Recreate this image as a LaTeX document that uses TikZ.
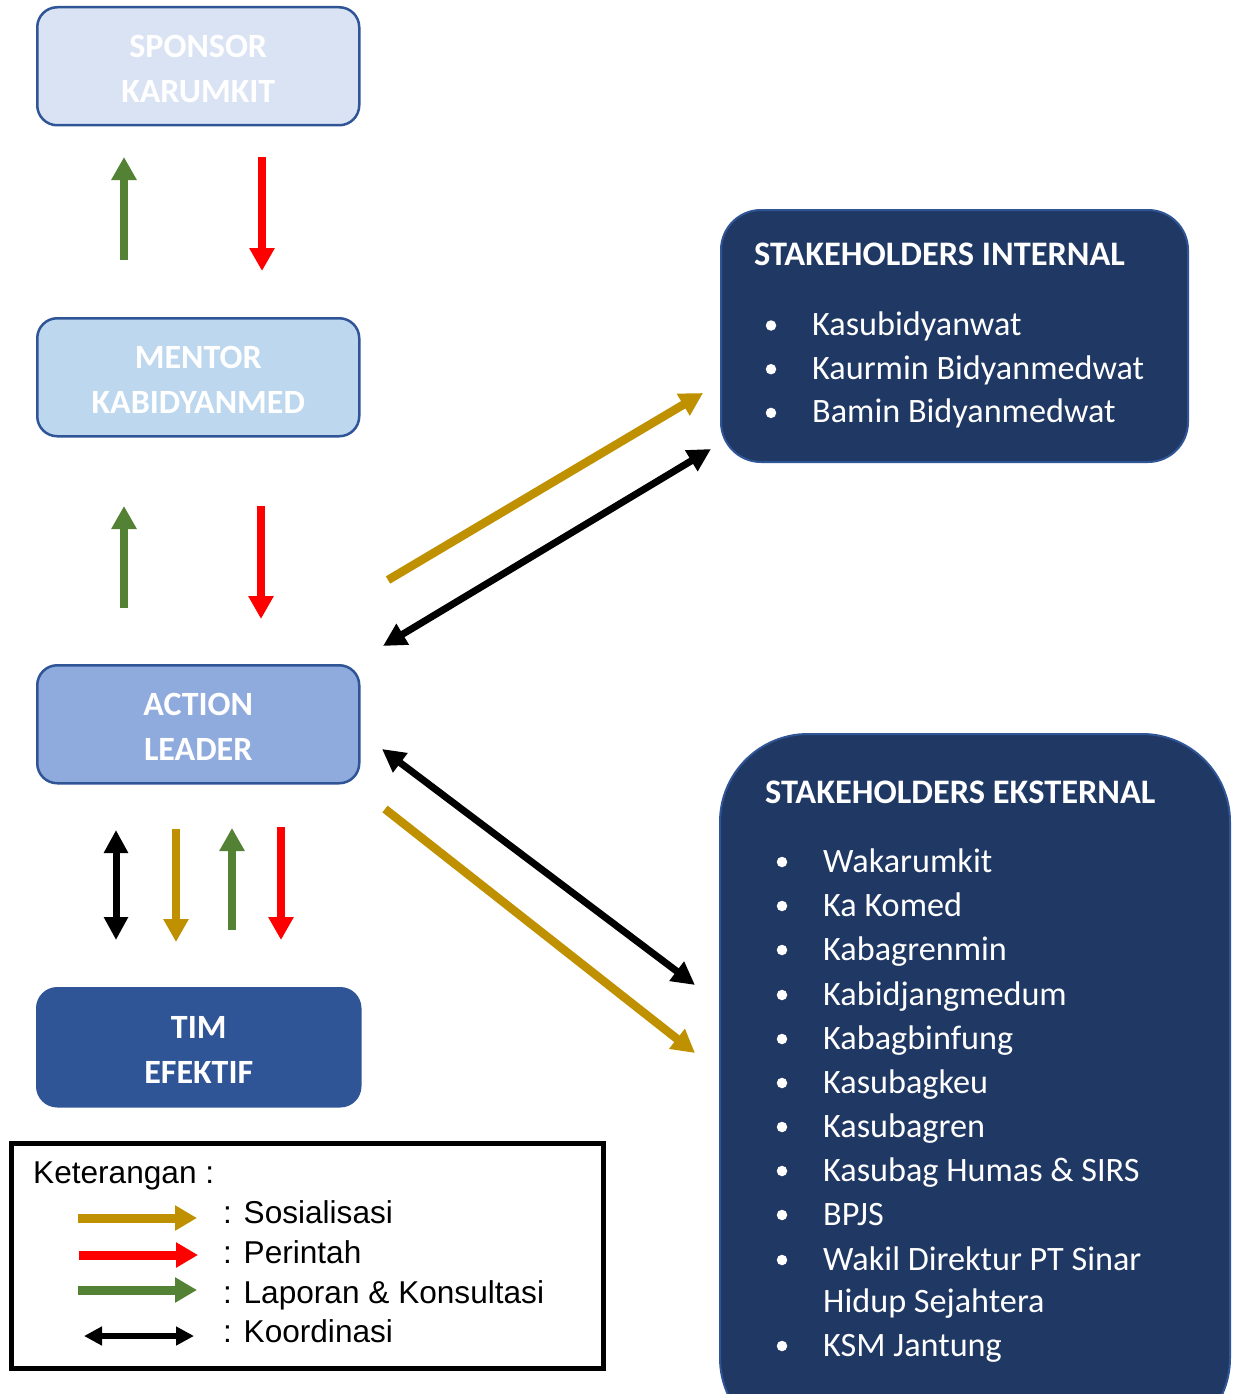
\documentclass[tikz,border=0pt]{standalone}
\usepackage{fontspec}
\setmainfont{Carlito}
\newfontfamily\arialfont{Liberation Sans}
\usetikzlibrary{arrows.meta}
\definecolor{sponsorfill}{HTML}{DAE3F3}
\definecolor{mentorfill}{HTML}{BDD7EE}
\definecolor{actionfill}{HTML}{8FAADC}
\definecolor{timfill}{HTML}{2F5597}
\definecolor{navy}{HTML}{203864}
\definecolor{boxline}{HTML}{2F5597}
\definecolor{gold}{HTML}{BF9000}
\definecolor{redarr}{HTML}{FF0000}
\definecolor{greenarr}{HTML}{548235}
\tikzset{
  leftbox/.style={draw=boxline, line width=2.5pt, rounded corners=20pt,
    minimum width=322pt, minimum height=118pt, inner sep=0pt, anchor=north west},
  boxtext/.style={inner sep=0pt, text=white, font=\fontsize{34}{45}\selectfont\bfseries, align=center},
  shbox/.style={draw=boxline, line width=2pt, fill=navy, inner sep=0pt, anchor=north west},
  fatarrow/.style={line width=8.5pt, -{Triangle[length=23pt,width=24pt]}},
  fatdbl/.style={line width=7pt, {Triangle[length=23pt,width=23pt]}-{Triangle[length=23pt,width=23pt]}},
  legarrow/.style={line width=9pt, -{Triangle[length=22pt,width=24pt]}},
  legdbl/.style={line width=5.5pt, {Triangle[length=18pt,width=18pt]}-{Triangle[length=18pt,width=18pt]}},
  titletext/.style={anchor=base west, text=white, inner sep=0pt, font=\fontsize{34.4}{40}\selectfont\bfseries},
  itemtext/.style={anchor=base west, text=white, inner sep=0pt, font=\fontsize{34.2}{40}\selectfont},
  bul/.style={circle, fill=white, minimum size=10.5pt, inner sep=0pt},
  legtext/.style={anchor=base west, inner sep=0pt, font=\arialfont\fontsize{31.6}{38}\selectfont},
}
\begin{document}
\begin{tikzpicture}[x=1pt,y=-1pt]
\useasboundingbox (0,0) rectangle (1232,1394);

% left boxes
\node[leftbox, fill=sponsorfill] (sponsor) at (36,6) {};
\node[leftbox, fill=mentorfill] (mentor) at (36,317) {};
\node[leftbox, fill=actionfill] (action) at (36,664) {};
\node[leftbox, fill=timfill, draw=timfill, minimum width=323pt] (tim) at (36,987) {};
\node[boxtext] (sponsortext) at ([yshift=-3pt]sponsor.center) {SPONSOR\\KARUMKIT};
\node[boxtext] (mentortext) at ([yshift=-2.5pt]mentor.center) {MENTOR\\KABIDYANMED};
\node[boxtext] (actiontext) at ([yshift=-2.5pt]action.center) {ACTION\\LEADER};
\node[boxtext] (timtext) at ([yshift=-3pt]tim.center) {TIM\\EFEKTIF};

% stakeholders internal
\node[shbox, rounded corners=40pt, minimum width=467pt, minimum height=252pt] (internal) at (720,209) {};
\node[titletext] (inttitle) at (754,265) {STAKEHOLDERS INTERNAL};
\foreach \t [count=\i] in {Kasubidyanwat, Kaurmin Bidyanmedwat, Bamin Bidyanmedwat} {
  \pgfmathsetmacro{\by}{335.5+43.7*(\i-1)}
  \node[bul] (ib\i) at (771,\by-10) {};
  \node[itemtext] (it\i) at (812,\by) {\t};
}

% stakeholders eksternal
\begin{scope}
\clip (0,0) rectangle (1232,1394);
\node[shbox, rounded corners=88pt, minimum width=510pt, minimum height=712pt] (eksternal) at (719,733) {};
\end{scope}
\node[titletext] (exttitle) at (765,803) {STAKEHOLDERS EKSTERNAL};
\foreach \t/\by [count=\i] in {Wakarumkit/872, Ka Komed/916, Kabagrenmin/960, Kabidjangmedum/1005,
  Kabagbinfung/1049, Kasubagkeu/1093, Kasubagren/1137, Kasubag Humas \& SIRS/1181, BPJS/1225,
  Wakil Direktur PT Sinar/1270, KSM Jantung/1356} {
  \node[bul] (eb\i) at (782,\by-10) {};
  \node[itemtext] (et\i) at (823,\by) {\t};
}
\node[itemtext] (et12) at (823,1312) {Hidup Sejahtera};

% arrow end points
\coordinate (gA1) at (124,260); \coordinate (gA2) at (124,157);
\coordinate (rA1) at (262,157); \coordinate (rA2) at (262,271);
\coordinate (gB1) at (124,608); \coordinate (gB2) at (124,506);
\coordinate (rB1) at (261,506); \coordinate (rB2) at (261,619);
\coordinate (kC1) at (116,830); \coordinate (kC2) at (116,940);
\coordinate (oC1) at (176,829); \coordinate (oC2) at (176,942);
\coordinate (gC1) at (232,930); \coordinate (gC2) at (232,828);
\coordinate (rC1) at (281,827); \coordinate (rC2) at (281,940);
\coordinate (oD1) at (388,580); \coordinate (oD2) at (703,393);
\coordinate (kD1) at (383,646); \coordinate (kD2) at (711,449);
\coordinate (kE1) at (382,749); \coordinate (kE2) at (695,985);
\coordinate (oE1) at (385,809); \coordinate (oE2) at (695,1053);

\draw[fatarrow, greenarr] (gA1) -- (gA2);
\draw[fatarrow, redarr] (rA1) -- (rA2);
\draw[fatarrow, greenarr] (gB1) -- (gB2);
\draw[fatarrow, redarr] (rB1) -- (rB2);
\draw[fatdbl, black] (kC1) -- (kC2);
\draw[fatarrow, gold] (oC1) -- (oC2);
\draw[fatarrow, greenarr] (gC1) -- (gC2);
\draw[fatarrow, redarr] (rC1) -- (rC2);
\draw[fatarrow, gold] (oD1) -- (oD2);
\draw[fatdbl, black] (kD1) -- (kD2);
\draw[fatdbl, black] (kE1) -- (kE2);
\draw[fatarrow, gold] (oE1) -- (oE2);

% legend
\node[draw, line width=5pt, minimum width=592pt, minimum height=225pt, inner sep=0pt, anchor=north west] (legend) at (8.5,1140.5) {};
\node[legtext] (legtitle) at (33,1183) {Keterangan :};
\node[legtext] (leg1) at (223,1223) {: Sosialisasi};
\node[legtext] (leg2) at (223,1263) {: Perintah};
\node[legtext] (leg3) at (223,1303) {: Laporan \& Konsultasi};
\node[legtext] (leg4) at (223,1342) {: Koordinasi};
\coordinate (lo1) at (78,1218); \coordinate (lo2) at (197,1218);
\coordinate (lr1) at (79,1255); \coordinate (lr2) at (198,1255);
\coordinate (lg1) at (78,1290); \coordinate (lg2) at (197,1290);
\coordinate (lk1) at (84,1336); \coordinate (lk2) at (194,1336);
\draw[legarrow, gold] (lo1) -- (lo2);
\draw[legarrow, redarr] (lr1) -- (lr2);
\draw[legarrow, greenarr] (lg1) -- (lg2);
\draw[legdbl, black] (lk1) -- (lk2);
\end{tikzpicture}
\end{document}
